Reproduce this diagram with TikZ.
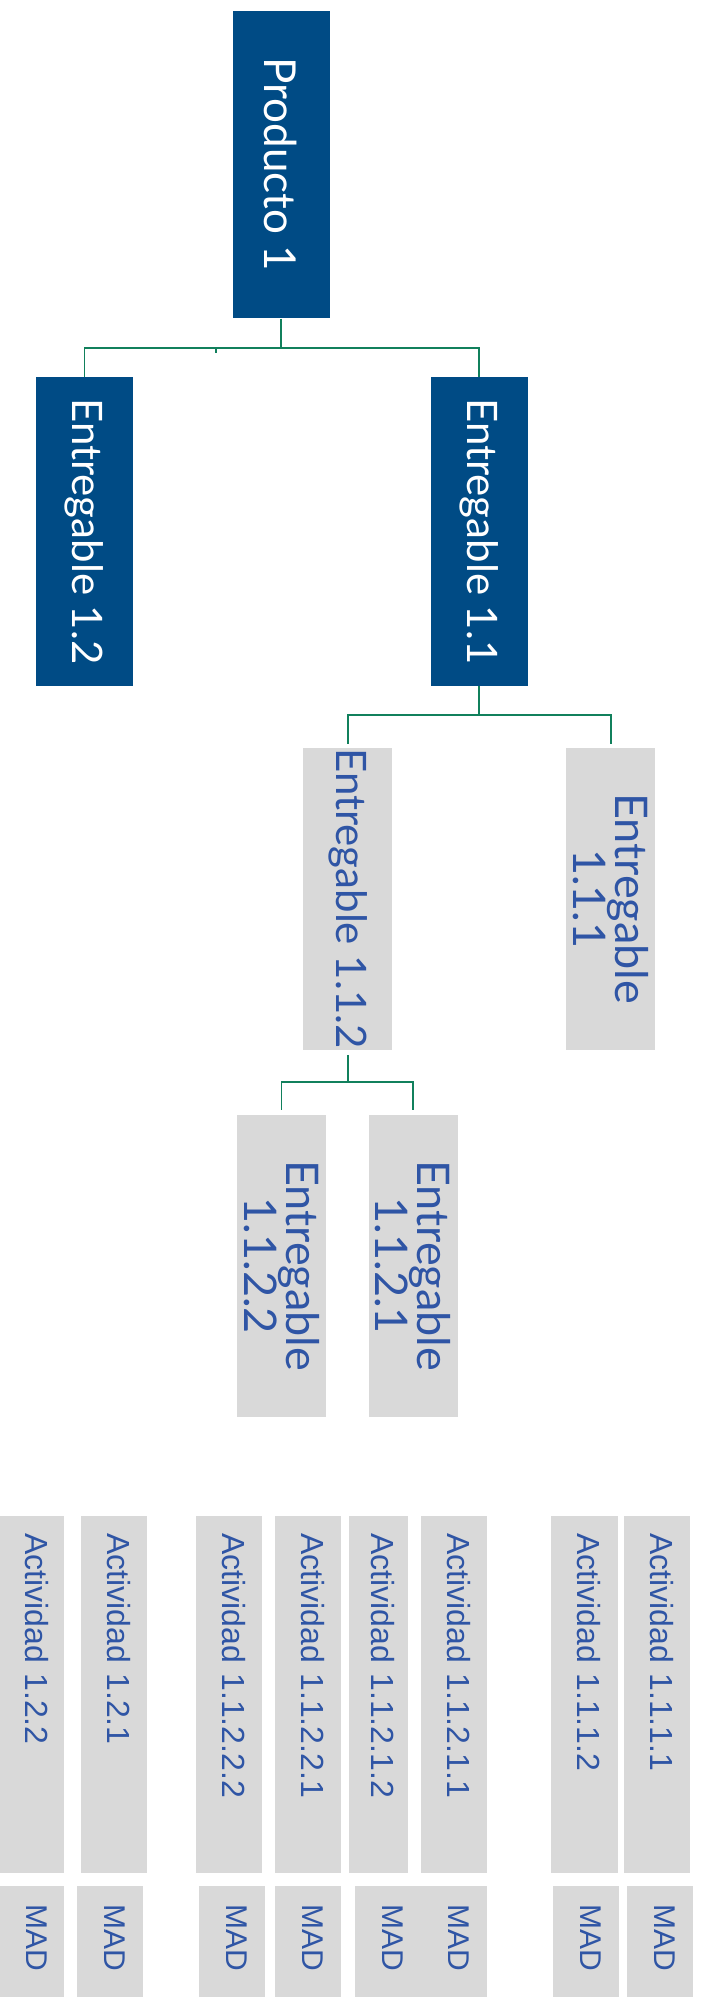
\documentclass[tikz,border=0pt]{standalone}
\usepackage{fontspec}
\newfontfamily\entfont{Lato}
\newfontfamily\actfont{Liberation Sans}

\definecolor{prodblue}{HTML}{004B85}
\definecolor{boxgrey}{HTML}{D9D9D9}
\definecolor{textblue}{HTML}{2F55A5}
\definecolor{linkgreen}{HTML}{11805C}

\tikzset{
    darkbox/.style={fill=prodblue, text=white, rotate=-90, inner sep=0pt,
        font=\entfont\fontsize{21}{22}\selectfont,
        minimum width=154.5pt, minimum height=48.5pt},
    greybox/.style={fill=boxgrey, text=textblue, rotate=-90, inner sep=0pt, align=center,
        font=\entfont\fontsize{22.5}{21}\selectfont,
        minimum width=151pt, minimum height=44.5pt},
    actbox/.style={fill=boxgrey, text=textblue, rotate=-90, align=left,
        font=\actfont\fontsize{16}{18}\selectfont,
        text width=161.3pt, inner xsep=8.5pt, inner ysep=0pt},
    madbox/.style={fill=boxgrey, text=textblue, rotate=-90, align=left,
        font=\actfont\fontsize{15}{17}\selectfont,
        text width=37.5pt, inner xsep=9pt, inner ysep=0pt},
    link/.style={draw=linkgreen, line width=0.9pt}
}

\begin{document}
\begin{tikzpicture}[x=0.5pt, y=-0.5pt]
    \useasboundingbox (0, 0) rectangle (701, 1997);

    % rotated boxes: .west is the top edge, .east the bottom edge
    \node[darkbox, minimum width=153.8pt, font=\entfont\fontsize{22}{22}\selectfont] (p1) at (281, 164.5) {Producto 1};
    \node[darkbox] (e12) at (84.5, 531.5) {Entregable 1.2};
    \node[darkbox] (e11) at (479.3, 531.5) {Entregable 1.1};

    \node[greybox, font=\entfont\fontsize{21}{21}\selectfont] (e112) at (347.8, 898.5) {Entregable 1.1.2};
    \node[greybox] (e111) at (610.7, 898.8) {Entregable\\1.1.1};

    \node[greybox] (e1122) at (281.5, 1265.7) {Entregable\\1.1.2.2};
    \node[greybox] (e1121) at (413, 1265.7) {Entregable\\1.1.2.1};

    \coordinate (bar1) at (281, 348.3);
    \coordinate (bar2) at (479.3, 715);
    \coordinate (bar3) at (347.8, 1082.3);
    \coordinate (tick) at (216, 353.3);

    \draw[link] (p1.east) to (bar1);
    \draw[link] (bar1) -| (e12.west);
    \draw[link] (bar1) -| (e11.west);
    \draw[link] (tick |- bar1) to (tick);

    \draw[link] (e11.east) to (bar2);
    \draw[link, shorten >=1.5pt] (bar2) -| (e112.west);
    \draw[link, shorten >=1.5pt] (bar2) -| (e111.west);

    \draw[link, shorten <=2.5pt] (e112.east) to (bar3);
    \draw[link, shorten >=2.2pt] (bar3) -| (e1122.west);
    \draw[link, shorten >=2.2pt] (bar3) -| (e1121.west);

    % activities
    \foreach \x/\w/\lab [count=\i] in {32/32/1.2.2, 114/33/1.2.1, 229/33/1.1.2.2.2,
            308/33/1.1.2.2.1, 378.5/29.5/1.1.2.1.2, 454/33/1.1.2.1.1,
            584.5/33.5/1.1.1.2, 657/33/1.1.1.1}{
        \node[actbox, minimum height=\w pt] (act\i) at (\x, 1694.3)
            {\rule[-5pt]{0pt}{12pt}Actividad \lab};
    }

    \foreach \x/\w [count=\i] in {32/32, 110/33, 232/33, 308/33,
            388/33, 454/33, 586/33, 660/33}{
        \node[madbox, minimum height=\w pt] (mad\i) at (\x, 1941.5)
            {\rule[-4.6pt]{0pt}{11pt}MAD};
    }
\end{tikzpicture}
\end{document}
